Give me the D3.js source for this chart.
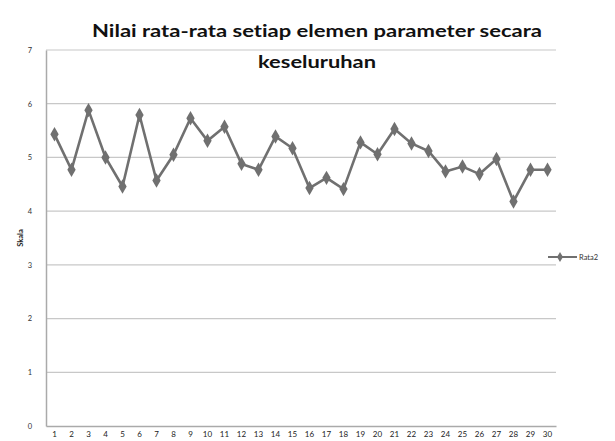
<!DOCTYPE html>
<html><head><meta charset="utf-8">
<script src="https://cdn.jsdelivr.net/npm/d3@7"></script>
<style>body{margin:0;background:#fff}svg{display:block}text{font-variant-ligatures:none}</style>
</head><body>
<script>
const categories = d3.range(1, 31).map(String);
const seriesName = "Rata2";
const values = [5.43,4.77,5.88,5.0,4.46,5.79,4.57,5.05,5.73,5.31,5.57,4.88,4.77,5.39,5.17,4.43,4.62,4.41,5.28,5.06,5.53,5.26,5.12,4.74,4.83,4.69,4.97,4.18,4.77,4.77];
const yTicks = [0,1,2,3,4,5,6,7];
const titleLines = ["Nilai rata-rata setiap elemen parameter secara","keseluruhan"];
const yTitle = "Skala";

(function () {
const W = 615, H = 441;
const svg = d3.select("body").append("svg").attr("width", W).attr("height", H);
const pLeft = 46, pRight = 556, pTop = 50, pBottom = 426;
const x = d3.scaleBand().domain(categories).range([pLeft, pRight]);
const y = d3.scaleLinear().domain([0, 7]).range([pBottom, pTop]);

// gridlines
svg.append("g").selectAll("line").data(yTicks.filter(d => d > 0)).join("line")
  .attr("x1", pLeft).attr("x2", pRight).attr("y1", d => y(d)).attr("y2", d => y(d))
  .attr("stroke", "#c8c8c8").attr("stroke-width", 1.2);

// axes
const yAxis = d3.axisLeft(y).tickValues(yTicks).tickFormat(d3.format("d")).tickSize(0).tickPadding(14);
const gy = svg.append("g").attr("transform", `translate(${pLeft},0)`).call(yAxis);
gy.select(".domain").attr("stroke", "#aaa").attr("stroke-width", 1.5);
gy.selectAll("text").attr("font-family", "Lato, sans-serif").attr("font-size", 7.5).attr("fill", "#333");

const xAxis = d3.axisBottom(x).tickSize(0).tickPadding(5);
const gx = svg.append("g").attr("transform", `translate(0,${pBottom})`).call(xAxis);
gx.select(".domain").attr("stroke", "#aaa").attr("stroke-width", 1.5);
gx.selectAll("text").attr("font-family", "Lato, sans-serif").attr("font-size", 8).attr("fill", "#222");

// line
const cx = (d, i) => x(categories[i]) + x.bandwidth() / 2;
svg.append("path").datum(values)
  .attr("d", d3.line().x(cx).y(d => y(d)))
  .attr("fill", "none").attr("stroke", "#707070").attr("stroke-width", 2.6);
const diamond = d3.symbol().type(d3.symbolDiamond).size(60);
svg.append("g").selectAll("path").data(values).join("path")
  .attr("d", diamond)
  .attr("transform", (d, i) => `translate(${cx(d, i)},${y(d)})`)
  .attr("fill", "#707070");

// title
const tl = [{w: 450}, {w: 118}];
svg.append("g").selectAll("text").data(titleLines).join("text")
  .attr("x", 317).attr("y", (d, i) => 37 + i * 31)
  .attr("text-anchor", "middle")
  .attr("font-family", "Lato, sans-serif").attr("font-weight", "bold").attr("font-size", 16.5)
  .attr("textLength", (d, i) => tl[i].w).attr("lengthAdjust", "spacingAndGlyphs")
  .attr("fill", "#111").text(d => d);

// y title
svg.append("text").attr("transform", "translate(23,238) rotate(-90)")
  .attr("text-anchor", "middle").attr("font-family", "Lato, sans-serif")
  .attr("font-weight", "bold").attr("font-size", 7.5).attr("fill", "#222").text(yTitle);

// legend
const lg = svg.append("g").attr("transform", "translate(548,257)");
lg.append("line").attr("x1", 0).attr("x2", 29).attr("stroke", "#707070").attr("stroke-width", 2);
lg.append("path").attr("d", d3.symbol().type(d3.symbolDiamond).size(30)).attr("transform", "translate(12,0)").attr("fill", "#707070");
lg.append("text").attr("x", 31).attr("y", 3).attr("font-family", "Lato, sans-serif")
  .attr("font-size", 7.5).attr("fill", "#333").text(seriesName);
})();
</script>
</body></html>
